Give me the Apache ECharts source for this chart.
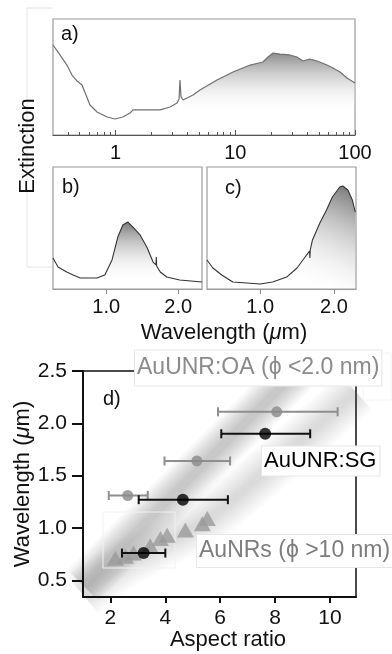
<!DOCTYPE html>
<html><head><meta charset="utf-8">
<script src="https://cdn.jsdelivr.net/npm/echarts@6/dist/echarts.min.js"></script>
<style>html,body{margin:0;padding:0;background:#fff;}#c{width:392px;height:654px;}</style>
</head><body><div id="c"></div>
<script>
// ---------- Panel a (log wavelength, µm) ----------
const wlA = [0.30,0.343,0.392,0.432,0.476,0.524,0.566,0.611,0.70,0.848,0.99,1.15,1.32,1.40,1.69,2.35,2.85,3.26,3.39,3.45,3.52,3.66,4.43,5.07,7.03,9.57,13.3,17.0,18.8,20.7,23.6,28.6,32.7,36.8,42.1,48.2,58.4,65.5,75.0,85.7,100];
const extA = [77.6,69.0,60.3,51.7,46.6,43.1,34.5,25.9,19.8,15.5,13.8,15.5,19.0,21.6,21.6,21.6,24.1,27.6,31.0,47.4,32.8,30.2,34.5,38.8,47.4,54.3,60.3,62.9,67.2,70.7,69.8,69.0,67.2,63.8,65.5,63.8,60.3,57.8,54.3,49.1,44.8];
const fillFromA = 3.66;
const ticksMajorA = [1, 10, 100];
const ticksMinorA = [0.4,0.5,0.6,0.7,0.8,0.9,2,3,4,5,6,7,8,9,20,30,40,50,60,70,80,90];
// ---------- Panel b ----------
const wlB = [0.26,0.33,0.45,0.54,0.64,0.87,0.98,1.08,1.16,1.23,1.30,1.37,1.47,1.57,1.65,1.69,1.695,1.70,1.75,1.84,2.02,2.33];
const extB = [25.4,18.0,13.9,11.5,9.0,9.0,11.5,23.8,42.6,52.5,54.9,50.8,44.3,33.6,22.1,19.7,26.2,18.9,13.9,9.8,7.4,5.7];
const fillRangeB = [0.98, 1.70];
// ---------- Panel c ----------
const wlC = [0.28,0.36,0.48,0.63,0.82,1.00,1.17,1.36,1.50,1.60,1.67,1.675,1.68,1.71,1.81,1.90,1.98,2.08,2.12,2.19,2.25,2.29];
const extC = [23.8,17.2,11.5,5.7,4.9,4.1,5.7,9.8,17.2,25.4,31.1,25.4,32.0,40.2,54.1,64.8,75.4,83.6,84.4,81.1,73.0,63.1];
const fillFromC = 1.36;
const ticksBC = [1.0, 2.0];
// ---------- Panel d ----------
const oaAR = [2.63, 5.15, 8.06], oaWL = [1.31, 1.64, 2.11], oaLo = [1.94, 3.97, 5.92], oaHi = [3.36, 6.36, 10.28];
const sgAR = [3.21, 4.64, 7.64], sgWL = [0.76, 1.27, 1.90], sgLo = [2.42, 3.03, 6.04], sgHi = [4.00, 6.28, 9.28];
const nrAR = [2.18, 2.55, 2.84, 3.45, 3.82, 4.07, 4.73, 5.35, 5.53];
const nrWL = [0.71, 0.73, 0.76, 0.83, 0.90, 0.93, 0.98, 1.04, 1.09];
const bandDarkAR = [1.0, 2.29, 8.5, 10.95], bandDarkWL = [0.45, 0.79, 2.42, 3.06];
const bandLightAR = [1.0, 2.5, 5.5, 8.0, 10.95], bandLightWL = [0.36, 0.66, 1.08, 1.62, 2.30];
const ticksDx = [2, 4, 6, 8, 10];
const ticksDy = [0.5, 1.0, 1.5, 2.0, 2.5];

const FF = "'Liberation Sans', Arial, Helvetica, sans-serif";
const zip = (a, b) => a.map((v, i) => [v, b[i]]);
const lineA = zip(wlA, extA), lineB = zip(wlB, extB), lineC = zip(wlC, extC);
const fillA = lineA.filter(p => p[0] >= fillFromA);
const fillB = lineB.filter(p => p[0] >= fillRangeB[0] && p[0] <= fillRangeB[1]);
const fillC = lineC.filter(p => p[0] >= fillFromC);

const chart = echarts.init(document.getElementById('c'), null, {renderer: 'canvas'});

function hiddenY(gi) {
  return {type: 'value', gridIndex: gi, min: 0, max: 100, show: false};
}
function errRender(color) {
  return function (params, api) {
    const y = api.value(1), lo = api.value(2), hi = api.value(3);
    const p1 = api.coord([lo, y]), p2 = api.coord([hi, y]);
    const h = 4.5;
    const st = {stroke: color, lineWidth: 2};
    return {type: 'group', children: [
      {type: 'line', shape: {x1: p1[0], y1: p1[1], x2: p2[0], y2: p2[1]}, style: st},
      {type: 'line', shape: {x1: p1[0], y1: p1[1] - h, x2: p1[0], y2: p1[1] + h}, style: st},
      {type: 'line', shape: {x1: p2[0], y1: p2[1] - h, x2: p2[0], y2: p2[1] + h}, style: st}
    ]};
  };
}
const bandSeries = [];
function addBand(ar, wl, widths, alpha) {
  widths.forEach(w => bandSeries.push({
    type: 'line', xAxisIndex: 4, yAxisIndex: 3, data: zip(ar, wl), showSymbol: false,
    smooth: 0.3, silent: true, z: 1,
    lineStyle: {color: 'rgba(110,110,110,' + alpha + ')', width: w, cap: 'butt'}
  }));
}
addBand(bandLightAR, bandLightWL, [48, 43, 38, 33, 28, 23, 18, 13, 8], 0.026);
addBand(bandDarkAR, bandDarkWL, [44, 40, 36, 32, 28, 24, 20, 16, 12, 8], 0.041);

const grayArea = (x, y, x2, y2, top, stop) => ({type: 'linear', x: x, y: y, x2: x2, y2: y2,
  colorStops: [{offset: 0, color: top}, {offset: stop, color: 'rgba(255,255,255,0)'}]});

const option = {
  backgroundColor: '#fff',
  animation: false,
  textStyle: {fontFamily: FF},
  grid: [
    {left: 53, top: 19, width: 302, height: 116, show: true, borderColor: '#9a9a9a', borderWidth: 1.2},
    {left: 53, top: 167, width: 149, height: 122, show: true, borderColor: '#9a9a9a', borderWidth: 1.2},
    {left: 207, top: 167, width: 149, height: 122, show: true, borderColor: '#9a9a9a', borderWidth: 1.2},
    {left: 83, top: 371, width: 273, height: 226, show: true, borderColor: '#111', borderWidth: 1.5}
  ],
  xAxis: [
    {type: 'log', gridIndex: 0, position: 'bottom', min: 0.3, max: 100, logBase: 10, z: 10,
     axisLine: {lineStyle: {color: '#555', width: 1.2}},
     axisTick: {inside: true, length: 5, customValues: ticksMajorA, lineStyle: {color: '#555'}},
     axisLabel: {customValues: ticksMajorA, color: '#111', fontSize: 20, fontFamily: FF, margin: 8},
     splitLine: {show: false}, minorTick: {show: false}},
    {type: 'log', gridIndex: 0, position: 'bottom', min: 0.3, max: 100, logBase: 10, z: 10,
     axisLine: {show: false},
     axisTick: {inside: true, length: 3, customValues: ticksMinorA, lineStyle: {color: '#555'}},
     axisLabel: {show: false}, splitLine: {show: false}},
    {type: 'value', gridIndex: 1, min: 0.26, max: 2.33, z: 10,
     axisLine: {lineStyle: {color: '#9a9a9a', width: 1.2}},
     axisTick: {length: 5, customValues: ticksBC, lineStyle: {color: '#888'}},
     axisLabel: {customValues: ticksBC, formatter: v => v.toFixed(1), color: '#111', fontSize: 20, fontFamily: FF, margin: 8},
     splitLine: {show: false}},
    {type: 'value', gridIndex: 2, min: 0.28, max: 2.30, z: 10,
     axisLine: {lineStyle: {color: '#9a9a9a', width: 1.2}},
     axisTick: {length: 5, customValues: ticksBC, lineStyle: {color: '#888'}},
     axisLabel: {customValues: ticksBC, formatter: v => v.toFixed(1), color: '#111', fontSize: 20, fontFamily: FF, margin: 8},
     splitLine: {show: false}},
    {type: 'value', gridIndex: 3, min: 1.0, max: 10.95, z: 10,
     axisLine: {lineStyle: {color: '#111', width: 2}},
     axisTick: {length: 6, customValues: ticksDx, lineStyle: {color: '#111', width: 2}},
     axisLabel: {customValues: ticksDx, color: '#111', fontSize: 21, fontFamily: FF, margin: 11},
     splitLine: {show: false}}
  ],
  yAxis: [
    hiddenY(0), hiddenY(1), hiddenY(2),
    {type: 'value', gridIndex: 3, min: 0.34, max: 2.5, z: 10,
     axisLine: {lineStyle: {color: '#111', width: 2}},
     axisTick: {length: 11, customValues: ticksDy, lineStyle: {color: '#111', width: 2}},
     axisLabel: {customValues: ticksDy, formatter: v => v.toFixed(1), color: '#111', fontSize: 21, fontFamily: FF, margin: 16},
     splitLine: {show: false}}
  ],
  series: [
    {type: 'line', xAxisIndex: 0, yAxisIndex: 0, data: fillA, showSymbol: false, silent: true, z: 1,
     lineStyle: {width: 0}, areaStyle: {color: grayArea(0, 0, 0, 1, '#8c8c8c', 0.74), opacity: 1}},
    {type: 'line', xAxisIndex: 0, yAxisIndex: 0, data: lineA, showSymbol: false, z: 2,
     lineStyle: {color: '#707070', width: 1.2}},
    {type: 'line', xAxisIndex: 2, yAxisIndex: 1, data: fillB, showSymbol: false, silent: true, z: 1,
     lineStyle: {width: 0}, areaStyle: {color: grayArea(0, 0, 0, 1, '#7a7a7a', 0.9), opacity: 1}},
    {type: 'line', xAxisIndex: 2, yAxisIndex: 1, data: lineB, showSymbol: false, z: 2,
     lineStyle: {color: '#333', width: 1.1}},
    {type: 'line', xAxisIndex: 3, yAxisIndex: 2, data: fillC, showSymbol: false, silent: true, z: 1,
     lineStyle: {width: 0}, areaStyle: {color: grayArea(0.85, 0, 0.15, 1, '#7a7a7a', 0.97), opacity: 1}},
    {type: 'line', xAxisIndex: 3, yAxisIndex: 2, data: lineC, showSymbol: false, z: 2,
     lineStyle: {color: '#333', width: 1.1}},
    ...bandSeries,
    {type: 'scatter', xAxisIndex: 4, yAxisIndex: 3, data: zip(nrAR, nrWL), symbol: 'triangle', symbolSize: [17, 15], z: 3,
     itemStyle: {color: '#9a9a9a'}},
    {type: 'custom', xAxisIndex: 4, yAxisIndex: 3, renderItem: errRender('#8e8e8e'), z: 4,
     data: oaAR.map((v, i) => [v, oaWL[i], oaLo[i], oaHi[i]]), encode: {x: 0, y: 1}},
    {type: 'scatter', xAxisIndex: 4, yAxisIndex: 3, data: zip(oaAR, oaWL), symbolSize: 11, z: 5,
     itemStyle: {color: '#8a8a8a'}},
    {type: 'custom', xAxisIndex: 4, yAxisIndex: 3, renderItem: errRender('#111'), z: 4,
     data: sgAR.map((v, i) => [v, sgWL[i], sgLo[i], sgHi[i]]), encode: {x: 0, y: 1}},
    {type: 'scatter', xAxisIndex: 4, yAxisIndex: 3, data: zip(sgAR, sgWL), symbolSize: 12, z: 5,
     itemStyle: {color: '#000'}}
  ],
  graphic: [
    {type: 'polyline', shape: {points: [[52, 8], [27, 8], [27, 267], [52, 267]]}, style: {stroke: '#e4e4e4', fill: null, lineWidth: 1}, z: 0},
    {type: 'rect', shape: {x: 103, y: 512, width: 72, height: 56}, style: {stroke: '#f1f1f1', fill: null, lineWidth: 1}, z: 2},
    {type: 'rect', shape: {x: 363, y: 353, width: 28, height: 47}, style: {stroke: '#f4f4f4', fill: '#fff', lineWidth: 1}, z: 50},
    {type: 'text', x: 61, y: 34, style: {text: 'a)', fontSize: 20, fontFamily: FF, fill: '#111', verticalAlign: 'middle', textVerticalAlign: 'middle'}, z: 60},
    {type: 'text', x: 62, y: 187, style: {text: 'b)', fontSize: 20, fontFamily: FF, fill: '#111', verticalAlign: 'middle', textVerticalAlign: 'middle'}, z: 60},
    {type: 'text', x: 225, y: 188, style: {text: 'c)', fontSize: 20, fontFamily: FF, fill: '#111', verticalAlign: 'middle', textVerticalAlign: 'middle'}, z: 60},
    {type: 'text', x: 103, y: 399, style: {text: 'd)', fontSize: 20, fontFamily: FF, fill: '#111', verticalAlign: 'middle', textVerticalAlign: 'middle'}, z: 60},
    {type: 'text', x: 28, y: 146, rotation: Math.PI / 2,
     style: {text: 'Extinction', fontSize: 22, fontFamily: FF, fill: '#111', align: 'center', textAlign: 'center', verticalAlign: 'middle', textVerticalAlign: 'middle'}, z: 60},
    {type: 'text', x: 224, y: 333,
     style: {text: 'Wavelength ({i|μ}m)', fontSize: 22, fontFamily: FF, fill: '#111', align: 'center', textAlign: 'center', verticalAlign: 'middle', textVerticalAlign: 'middle',
             rich: {i: {fontStyle: 'italic', fontSize: 22, fontFamily: FF, fill: '#111'}}}, z: 60},
    {type: 'text', x: 23, y: 484, rotation: Math.PI / 2,
     style: {text: 'Wavelength ({i|μ}m)', fontSize: 22, fontFamily: FF, fill: '#111', align: 'center', textAlign: 'center', verticalAlign: 'middle', textVerticalAlign: 'middle',
             rich: {i: {fontStyle: 'italic', fontSize: 22, fontFamily: FF, fill: '#111'}}}, z: 60},
    {type: 'text', x: 228, y: 640,
     style: {text: 'Aspect ratio', fontSize: 22, fontFamily: FF, fill: '#111', align: 'center', textAlign: 'center', verticalAlign: 'middle', textVerticalAlign: 'middle'}, z: 60},
    {type: 'text', x: 135, y: 368,
     style: {text: 'AuUNR:OA (ϕ <2.0 nm)', fontSize: 23, fontFamily: FF, fill: '#8a8a8a', verticalAlign: 'middle', textVerticalAlign: 'middle',
             backgroundColor: '#fff', borderColor: '#e6e6e6', borderWidth: 1, padding: [7, 2, 5, 2]}, z: 60},
    {type: 'text', x: 262, y: 461,
     style: {text: 'AuUNR:SG', fontSize: 22, fontFamily: FF, fill: '#000', verticalAlign: 'middle', textVerticalAlign: 'middle',
             backgroundColor: '#fff', borderColor: '#e6e6e6', borderWidth: 1, padding: [4, 3, 3, 2]}, z: 60},
    {type: 'text', x: 197, y: 551,
     style: {text: 'AuNRs (ϕ >10 nm)', fontSize: 23, fontFamily: FF, fill: '#7d7d7d', verticalAlign: 'middle', textVerticalAlign: 'middle',
             backgroundColor: '#fff', borderColor: '#e6e6e6', borderWidth: 1, padding: [5, 3, 4, 2]}, z: 60}
  ]
};
chart.setOption(option);
</script></body></html>
